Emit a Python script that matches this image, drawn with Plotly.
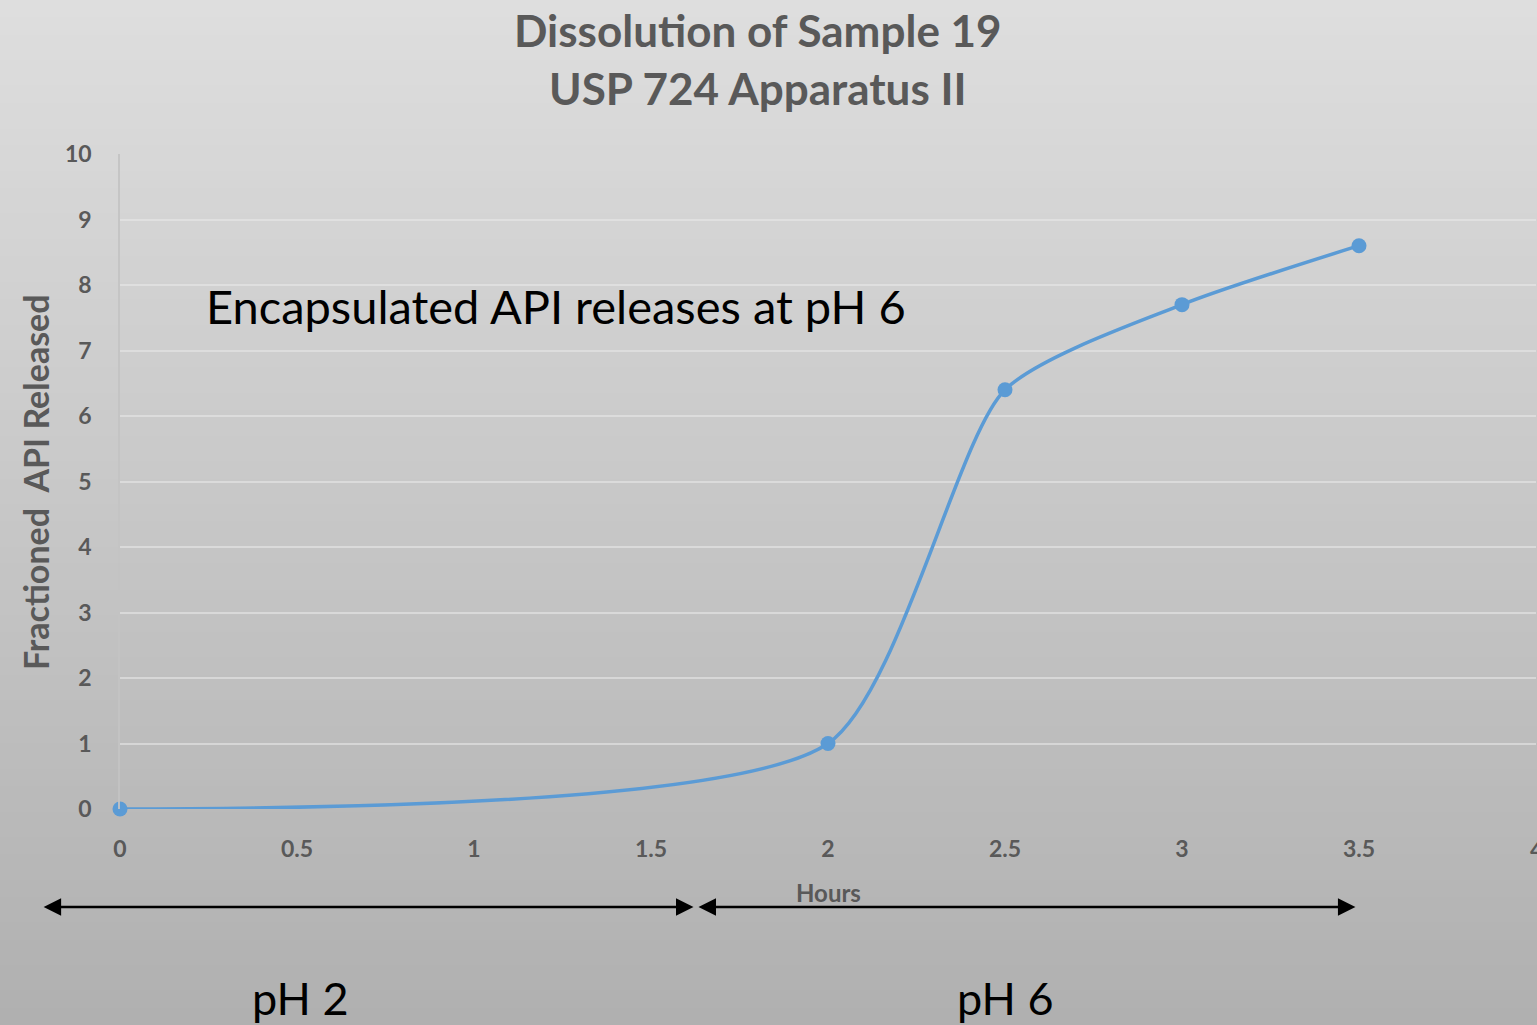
import plotly.graph_objects as go

# Dissolution profile data
hours = [0, 2, 2.5, 3, 3.5]
api_released = [0, 1, 6.4, 7.7, 8.6]

x_ticks = [0, 0.5, 1, 1.5, 2, 2.5, 3, 3.5, 4]
x_tick_text = ["0", "0.5", "1", "1.5", "2", "2.5", "3", "3.5", "4"]
y_ticks = list(range(0, 11))

# pH phase spans (hours)
ph2_span = [-0.22, 1.62]
ph6_span = [1.63, 3.49]

W, H = 1537, 1025
GRAY = "#595959"
FONT = "Lato"

# plot area in pixels: x 120..1536, y 154..809
PLOT_H = 655


def py(pix):
    """paper y for a pixel row of the page"""
    return (809 - pix) / PLOT_H


def px(pix):
    """paper x for a pixel column of the page"""
    return (pix - 120) / 1416


fig = go.Figure()

fig.add_trace(go.Scatter(
    x=hours, y=api_released,
    mode="lines+markers",
    line=dict(color="#5b9bd5", width=3.5, shape="spline", smoothing=0.65),
    marker=dict(color="#5b9bd5", size=15),
    cliponaxis=False,
    showlegend=False,
))

# vertical gradient background built from thin paper-level strips
n = 120
top = (222, 222, 222)
bot = (176, 176, 176)
shapes = []
for i in range(n):
    t = i / (n - 1)
    c = tuple(round(top[k] + (bot[k] - top[k]) * t) for k in range(3))
    shapes.append(dict(
        type="rect", xref="paper", yref="paper", layer="below",
        x0=-0.2, x1=1.2,
        y1=py(i * H / n), y0=py((i + 1) * H / n) - 0.002,
        line=dict(width=0), fillcolor="rgb(%d,%d,%d)" % c,
    ))

annotations = [
    dict(text="<b>Dissolution of Sample 19</b>",
         xref="paper", yref="paper", x=px(758), y=py(30),
         xanchor="center", yanchor="middle", showarrow=False,
         font=dict(family=FONT, size=44, color=GRAY)),
    dict(text="<b>USP 724 Apparatus II</b>",
         xref="paper", yref="paper", x=px(758), y=py(88),
         xanchor="center", yanchor="middle", showarrow=False,
         font=dict(family=FONT, size=44, color=GRAY)),
    dict(text="Encapsulated API releases at pH 6",
         xref="paper", yref="paper", x=px(204), y=py(306),
         xanchor="left", yanchor="middle", showarrow=False,
         font=dict(family=FONT, size=47, color="#000000")),
    dict(text="<b>Hours</b>",
         xref="x", yref="paper", x=2, y=py(892),
         xanchor="center", yanchor="middle", showarrow=False,
         font=dict(family=FONT, size=24, color=GRAY)),
    dict(text="<b>Fractioned  API Released</b>",
         xref="paper", yref="paper", x=px(35), y=py(482), textangle=-90,
         xanchor="center", yanchor="middle", showarrow=False,
         font=dict(family=FONT, size=34, color=GRAY)),
    dict(text="pH 2", xref="x", yref="paper",
         x=0.51, y=py(998), xanchor="center", yanchor="middle",
         showarrow=False, font=dict(family=FONT, size=45, color="#000000")),
    dict(text="pH 6", xref="x", yref="paper",
         x=2.50, y=py(998), xanchor="center", yanchor="middle",
         showarrow=False, font=dict(family=FONT, size=45, color="#000000")),
    # last x tick label sits on the right page edge
    dict(text="<b>%s</b>" % x_tick_text[-1], xref="x", yref="paper",
         x=x_ticks[-1], y=py(849), xanchor="center", yanchor="middle",
         showarrow=False, font=dict(family=FONT, size=23, color=GRAY)),
]

for span in (ph2_span, ph6_span):
    annotations.append(dict(
        xref="x", yref="paper", axref="x", ayref="pixel",
        x=span[1], y=py(907), ax=span[0], ay=0,
        text="", showarrow=True, arrowside="end+start",
        arrowhead=2, arrowsize=1.4, arrowwidth=2.5, arrowcolor="#000000",
    ))

fig.update_layout(
    width=W, height=H,
    margin=dict(l=120, r=1, t=154, b=216),
    paper_bgcolor="#d0d0d0",
    plot_bgcolor="rgba(0,0,0,0)",
    shapes=shapes,
    annotations=annotations,
    xaxis=dict(
        range=[0, 4], tickvals=x_ticks[:-1], ticktext=x_tick_text[:-1],
        showgrid=False, zeroline=False, showline=False,
        ticks="outside", ticklen=19, tickcolor="rgba(0,0,0,0)",
        tickfont=dict(family=FONT, size=23, color=GRAY, weight="bold"),
    ),
    yaxis=dict(
        range=[0, 10], tickvals=y_ticks,
        showgrid=True, gridcolor="rgba(232,232,232,0.6)", gridwidth=1.5,
        zeroline=False, showline=True, linecolor="rgba(195,195,195,0.9)", linewidth=1.5,
        ticks="outside", ticklen=22, tickcolor="rgba(0,0,0,0)",
        tickfont=dict(family=FONT, size=23, color=GRAY, weight="bold"),
    ),
)

fig.write_html("out.html")
